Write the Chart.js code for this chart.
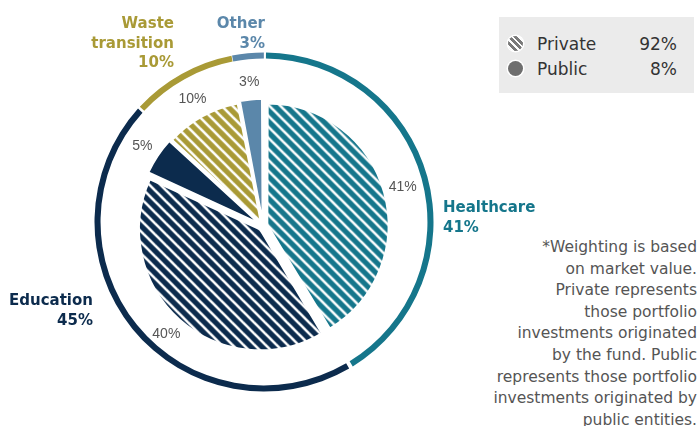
<!DOCTYPE html>
<html>
<head>
<meta charset="utf-8">
<script src="https://cdn.jsdelivr.net/npm/chart.js@4"></script>
<style>
    body {
        margin: 0;
        width: 699px;
        height: 426px;
        background: #fff;
        position: relative;
        overflow: hidden;
        font-family: "DejaVu Sans", sans-serif;
    }
    .box {
        position: absolute;
    }
    .callout {
        position: absolute;
        font-weight: bold;
        font-size: 15px;
        line-height: 19.5px;
        white-space: nowrap;
    }
    #legendBox {
        position: absolute;
        left: 499px;
        top: 17px;
        width: 195px;
        height: 76px;
        background: #ebebeb;
    }
    .legendRow {
        position: absolute;
        left: 0;
        width: 178px;
        height: 24px;
        font-size: 17px;
        line-height: 24px;
        color: #333;
    }
    .legendRow .icon {
        position: absolute;
        left: 9px;
        top: 4px;
        width: 15px;
        height: 15px;
        border-radius: 50%;
        box-shadow: 0 0 0 1.5px #fff;
    }
    .legendRow .name {
        position: absolute;
        left: 38px;
    }
    .legendRow .value {
        position: absolute;
        right: 0;
    }
    #footnote {
        position: absolute;
        right: 2px;
        top: 237px;
        font-size: 15.5px;
        line-height: 21.6px;
        color: #555;
        text-align: right;
        white-space: nowrap;
    }
</style>
</head>
<body>
<div class="box" id="pieBox" style="left:93px; top:56px; width:340px; height:340px;">
    <canvas id="pieChart"></canvas>
</div>
<div class="box" id="ringBox" style="left:84px; top:42px; width:360px; height:360px;">
    <canvas id="ringChart"></canvas>
</div>
<div id="callouts"></div>
<div id="legendBox"></div>
<div id="footnote"></div>

<script>
// Outer ring: share by sector
const sectors = ["Healthcare", "Education", "Waste transition", "Other"];
const sectorShares = [41, 45, 10, 3];

// Inner pie: share by sector and origination
const sliceSectors = ["Healthcare", "Education", "Education", "Waste transition", "Other"];
const sliceOwnership = ["Private", "Private", "Public", "Private", "Public"];
const sliceShares = [41, 40, 5, 10, 3];

// Legend
const ownershipLabels = ["Private", "Public"];
const ownershipShares = [92, 8];

const footnoteLines = [
    "*Weighting is based",
    "on market value.",
    "Private represents",
    "those portfolio",
    "investments originated",
    "by the fund. Public",
    "represents those portfolio",
    "investments originated by",
    "public entities.",
];

const sectorColors = {
    "Healthcare": "#15768b",
    "Education": "#0c2b4d",
    "Waste transition": "#a99a36",
    "Other": "#5b87aa",
};

// where the bold sector callouts sit (line break inside "Waste transition")
const calloutLayout = {
    "Healthcare": { left: 443, top: 198, align: "left", lines: ["Healthcare"] },
    "Education": { right: 606, top: 291, align: "right", lines: ["Education"] },
    "Waste transition": { right: 525, top: 14, align: "right", lines: ["Waste", "transition"] },
    "Other": { right: 434, top: 14, align: "right", lines: ["Other"] },
};

// diagonal stripe fill for private slices
function stripes(color) {
    const s = 11;
    const c = document.createElement("canvas");
    c.width = s;
    c.height = s;
    const g = c.getContext("2d");
    g.fillStyle = color;
    g.fillRect(0, 0, s, s);
    g.strokeStyle = "#fff";
    g.lineWidth = 2.6;
    [-s, 0, s].forEach((k) => {
        g.beginPath();
        g.moveTo(-1, -1 + k);
        g.lineTo(s + 1, s + 1 + k);
        g.stroke();
    });
    return g.createPattern(c, "repeat");
}

const sliceFills = sliceSectors.map((name, i) =>
    sliceOwnership[i] === "Private" ? stripes(sectorColors[name]) : sectorColors[name]
);

// gray % labels just outside each slice
const sliceLabelPlugin = {
    id: "sliceLabels",
    afterDatasetsDraw(chart) {
        const ctx = chart.ctx;
        const meta = chart.getDatasetMeta(0);
        ctx.save();
        ctx.font = '14px "Liberation Sans"';
        ctx.fillStyle = "#555";
        ctx.textAlign = "center";
        ctx.textBaseline = "middle";
        meta.data.forEach((arc, i) => {
            const { x, y, startAngle, endAngle, outerRadius } = arc.getProps(
                ["x", "y", "startAngle", "endAngle", "outerRadius"], true
            );
            const mid = (startAngle + endAngle) / 2;
            const r = outerRadius + 26;
            ctx.fillText(sliceShares[i] + "%", x + Math.cos(mid) * r, y + Math.sin(mid) * r);
        });
        ctx.restore();
    },
};

const pieChart = new Chart(document.getElementById("pieChart"), {
    type: "pie",
    data: {
        labels: sliceSectors.map((s, i) => s + " (" + sliceOwnership[i] + ")"),
        datasets: [{
            data: sliceShares,
            backgroundColor: sliceFills,
            borderColor: "#fff",
            borderWidth: 2,
            offset: 18,
            hoverOffset: 18,
            radius: 119,
        }],
    },
    options: {
        responsive: true,
        maintainAspectRatio: false,
        animation: false,
        events: [],
        layout: { padding: 0 },
        plugins: {
            legend: { display: false },
            tooltip: { enabled: false },
        },
    },
    plugins: [sliceLabelPlugin],
});

const ringChart = new Chart(document.getElementById("ringChart"), {
    type: "doughnut",
    data: {
        labels: sectors,
        datasets: [{
            data: sectorShares,
            backgroundColor: sectors.map((s) => sectorColors[s]),
            borderWidth: 0,
            spacing: 3,
            radius: 168,
            cutout: "96.4%",
        }],
    },
    options: {
        responsive: true,
        maintainAspectRatio: false,
        animation: false,
        events: [],
        layout: { padding: 0 },
        plugins: {
            legend: { display: false },
            tooltip: { enabled: false },
        },
    },
});

// Sector callouts
const callouts = document.getElementById("callouts");
sectors.forEach((name, i) => {
    const pos = calloutLayout[name];
    const div = document.createElement("div");
    div.className = "callout";
    div.style.color = sectorColors[name];
    div.style.top = pos.top + "px";
    div.style.textAlign = pos.align;
    if (pos.align === "left") div.style.left = pos.left + "px";
    else div.style.right = pos.right + "px";
    div.innerHTML = pos.lines.concat([sectorShares[i] + "%"]).join("<br>");
    callouts.appendChild(div);
});

// Legend (private / public)
const legendBox = document.getElementById("legendBox");
ownershipLabels.forEach((label, i) => {
    const row = document.createElement("div");
    row.className = "legendRow";
    row.style.top = 15 + i * 25 + "px";
    const icon = document.createElement("span");
    icon.className = "icon";
    icon.style.background = label === "Private"
        ? "repeating-linear-gradient(45deg, #7a7a7a 0 3px, #fff 3px 4.6px)"
        : "#6e6e6e";
    const name = document.createElement("span");
    name.className = "name";
    name.textContent = label;
    const value = document.createElement("span");
    value.className = "value";
    value.textContent = ownershipShares[i] + "%";
    row.append(icon, name, value);
    legendBox.appendChild(row);
});

document.getElementById("footnote").innerHTML = footnoteLines.join("<br>");
</script>
</body>
</html>
